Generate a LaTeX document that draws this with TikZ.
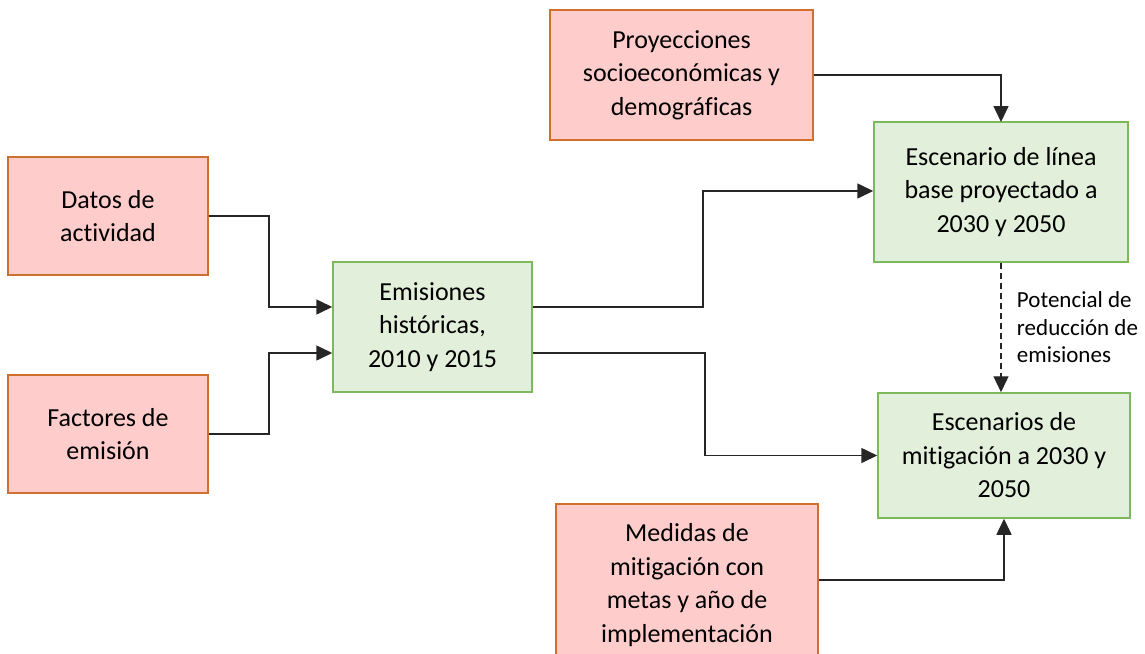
\documentclass[tikz,border=0pt]{standalone}
\usepackage{fontspec}
\setmainfont{Carlito}[Ligatures=NoCommon]
\usepackage{xcolor}
\usepackage{tikz}
\usetikzlibrary{arrows.meta}
\usetikzlibrary{calc}
\definecolor{pinkfill}{HTML}{FFCCCC}
\definecolor{pinkline}{HTML}{D0702E}
\definecolor{greenfill}{HTML}{E2EFDA}
\definecolor{greenline}{HTML}{7DB95A}
\tikzset{>={Triangle[length=16pt,width=15pt]},
    inbox/.style={draw=pinkline, fill=pinkfill, line width=1.5pt, align=center, inner sep=0pt,
        font=\fontsize{26}{33.5}\selectfont},
    outbox/.style={draw=greenline, fill=greenfill, line width=1.5pt, align=center, inner sep=0pt,
        font=\fontsize{26}{33.5}\selectfont},
    link/.style={->, line width=1.6pt, draw=black!85}}

\begin{document}
\begin{tikzpicture}[x=1pt, y=-1pt]
    \useasboundingbox (0,0) rectangle (1145,653);
    % entradas
    \node[inbox, minimum width=200pt, minimum height=118pt] (datos) at (108,216) {Datos de\\actividad};
    \node[inbox, minimum width=200pt, minimum height=118pt] (factores) at (108,434) {Factores de\\emisión};
    \node[inbox, minimum width=263pt, minimum height=130pt] (proy) at (681.5,75) {Proyecciones\\socioeconómicas y\\demográficas};
    \node[inbox, minimum width=262pt, minimum height=162pt] (medidas) at (687,585) {Medidas de\\mitigación con\\metas y año de\\implementación};
    % resultados
    \node[outbox, minimum width=199pt, minimum height=130pt] (emis) at (432.5,327) {Emisiones\\históricas,\\2010 y 2015};
    \node[outbox, minimum width=254pt, minimum height=140pt] (base) at (1001,192) {Escenario de línea\\base proyectado a\\2030 y 2050};
    \node[outbox, minimum width=252pt, minimum height=125pt] (mitig) at (1004,455.5) {Escenarios de\\mitigación a 2030 y\\2050};
    % conectores
    \draw[link] (datos.east) -- (269,216) |- ($(emis.west)+(0,-20)$);
    \draw[link] (factores.east) -- (269,434) |- ($(emis.west)+(0,26)$);
    \draw[link] ($(emis.east)+(0,-20)$) -- (703,307) |- ($(base.west)+(0,-1)$);
    \draw[link] ($(emis.east)+(0,26)$) -- (705,353) |- (mitig.west);
    \draw[link] (proy.east) -| (1001,122);
    \draw[link] ($(medidas.east)+(0,-5)$) -| (mitig.south);
    \draw[link, dash pattern=on 6pt off 4pt, line width=1.3pt] (base.south) -- (base.south |- mitig.north)
        node[midway, right=12pt, align=left, font=\fontsize{23}{27.5}\selectfont] (potencial) {Potencial de\\reducción de\\emisiones};
\end{tikzpicture}
\end{document}
